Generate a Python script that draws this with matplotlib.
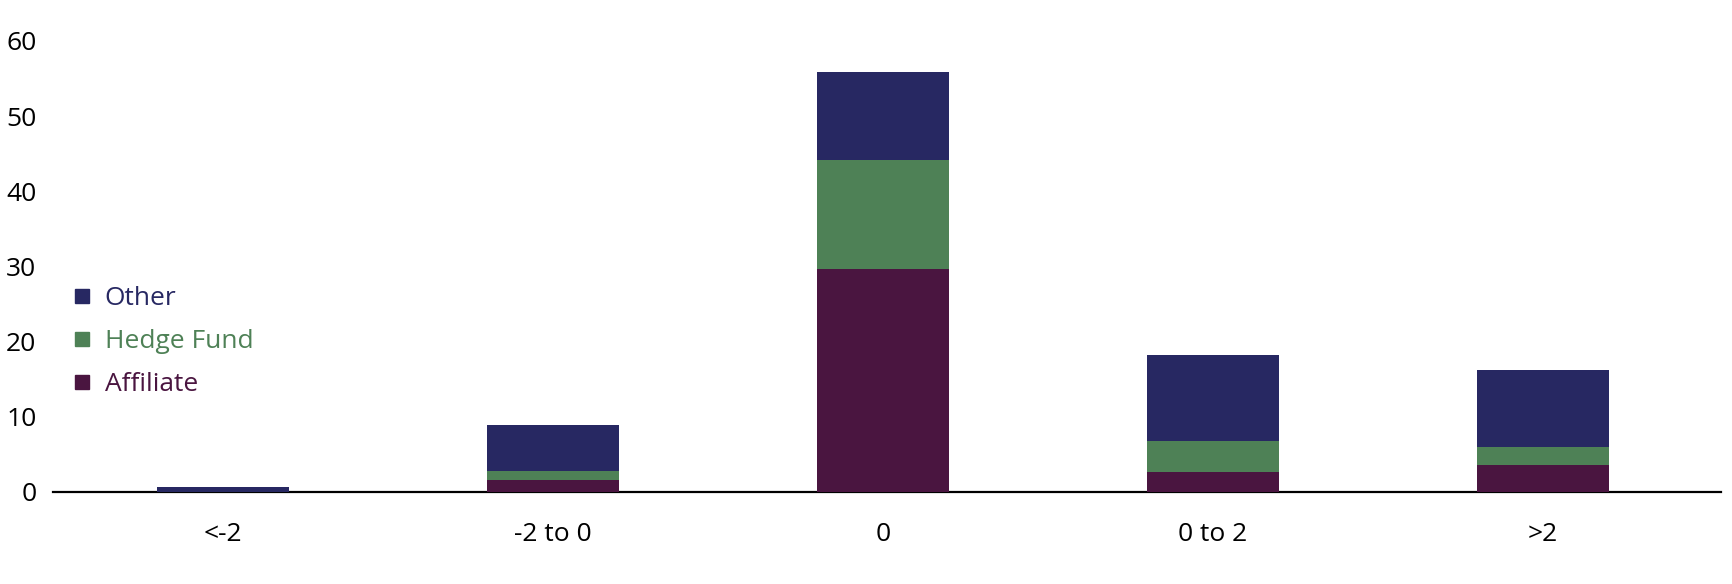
import numpy as np
import matplotlib.pyplot as plt
from matplotlib.lines import Line2D

plt.rcParams['font.family'] = ['Open Sans', 'DejaVu Sans']

# Data
categories = ['<-2', '-2 to 0', '0', '0 to 2', '>2']
affiliate = [0.0, 1.6, 29.7, 2.6, 3.55]
hedge_fund = [0.0, 1.2, 14.4, 4.1, 2.45]
other = [0.6, 6.1, 11.8, 11.5, 10.2]

c_affiliate = '#4a1540'
c_hedge = '#4e8156'
c_other = '#272862'

fig = plt.figure(figsize=(17.32, 5.84), dpi=100)
ax = fig.add_axes([0.0306, 0.158, 0.963, 0.772])

x = np.arange(len(categories))
width = 0.4
aff = np.array(affiliate)
hf = np.array(hedge_fund)
oth = np.array(other)

ax.bar(x, aff, width, color=c_affiliate, linewidth=0)
ax.bar(x, hf, width, bottom=aff, color=c_hedge, linewidth=0)
ax.bar(x, oth, width, bottom=aff + hf, color=c_other, linewidth=0)

ax.set_xlim(-0.515, 4.54)
ax.set_ylim(0, 60)
ax.set_yticks(np.arange(0, 61, 10))
ax.set_xticks(x)
ax.set_xticklabels(categories)

for s in ['top', 'right', 'left']:
    ax.spines[s].set_visible(False)
ax.spines['bottom'].set_linewidth(1.6)
ax.spines['bottom'].set_color('black')
ax.spines['bottom'].set_zorder(0.5)

ax.tick_params(axis='y', length=0, pad=12, labelsize=19)
ax.tick_params(axis='x', length=0, pad=22, labelsize=19)

# Legend
handles = [
    Line2D([], [], marker='s', linestyle='none', markersize=9.5, color=c_other),
    Line2D([], [], marker='s', linestyle='none', markersize=9.5, color=c_hedge),
    Line2D([], [], marker='s', linestyle='none', markersize=9.5, color=c_affiliate),
]
leg = ax.legend(handles, ['Other', 'Hedge Fund', 'Affiliate'],
                loc='center left', bbox_to_anchor=(-0.003, 0.333),
                frameon=False, fontsize=19, handlelength=0.8,
                handletextpad=0.45, labelspacing=0.68,
                labelcolor=[c_other, c_hedge, c_affiliate])

fig.savefig('out.png', dpi=100)
